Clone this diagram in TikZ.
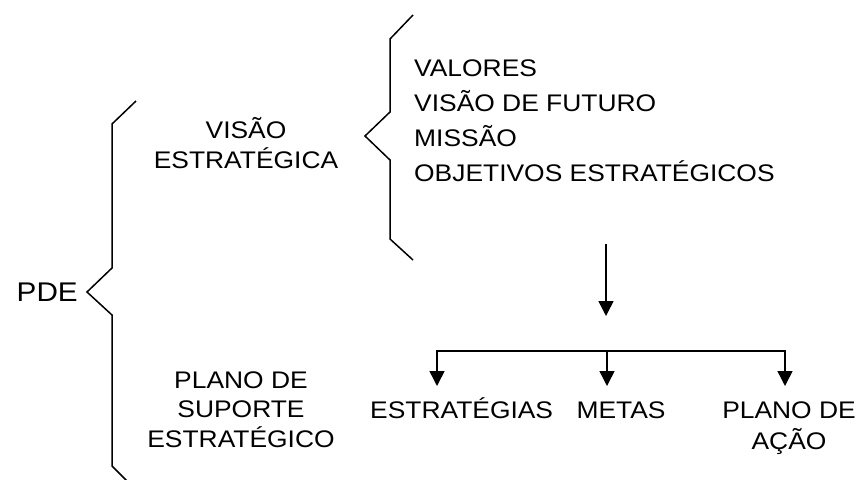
\documentclass[tikz,border=0pt]{standalone}
\usepackage{fontspec}
\setmainfont{Liberation Sans}[FakeStretch=1.1]
\usetikzlibrary{arrows.meta}
\begin{document}
\begin{tikzpicture}[x=1pt,y=-1pt,
  lbl/.style={font=\fontsize{24}{29.5}\selectfont, inner sep=0pt},
  brace/.style={line width=1.5pt, line join=miter},
  arr/.style={line width=1.5pt, -{Triangle[width=15pt,length=15pt]}}]
\useasboundingbox (0,0) rectangle (858,479);
% big brace
\draw[brace] (136,101) -- (112,124) -- (112,268) -- (87,292) -- (112,315) -- (112,466) -- (133,487);
% small brace
\draw[brace] (413,15) -- (390,39) -- (390,112) -- (365,136) -- (390,160) -- (390,239) -- (413,260);
% labels
\node[lbl, font=\fontsize{27}{32}\selectfont, anchor=east] (pde) at (78,292) {PDE};
\node[lbl, anchor=base, align=center] (visao) at (246,168) {VISÃO\\ESTRATÉGICA};
\node[lbl, anchor=base, align=center] (plano) at (241,447) {PLANO DE\\SUPORTE\\ESTRATÉGICO};
\node[lbl, anchor=base west] (valores) at (414,76) {VALORES};
\node[lbl, anchor=base west] (futuro) at (414,111) {VISÃO DE FUTURO};
\node[lbl, anchor=base west] (missao) at (414,146) {MISSÃO};
\node[lbl, anchor=base west] (objetivos) at (414,181) {OBJETIVOS ESTRATÉGICOS};
\node[lbl, anchor=base west] (estrategias) at (370,418) {ESTRATÉGIAS};
\node[lbl, anchor=base] (metas) at (621,418) {METAS};
\node[lbl, anchor=base, align=center, font=\fontsize{24}{31}\selectfont] (acao) at (789,449) {PLANO DE\\AÇÃO};
% connectors
\coordinate (a0) at (606,244);
\coordinate (a1) at (606,316);
\coordinate (h1) at (437,351);
\coordinate (h2) at (607,351);
\coordinate (h3) at (785,351);
\coordinate (e1) at (437,386);
\coordinate (e2) at (607,386);
\coordinate (e3) at (785,386);
\draw[arr] (a0) -- (a1);
\draw[line width=1.5pt] ([xshift=-0.75pt]h1) -- ([xshift=0.75pt]h3);
\draw[arr] (h1) -- (e1);
\draw[arr] (h2) -- (e2);
\draw[arr] (h3) -- (e3);
\end{tikzpicture}
\end{document}
